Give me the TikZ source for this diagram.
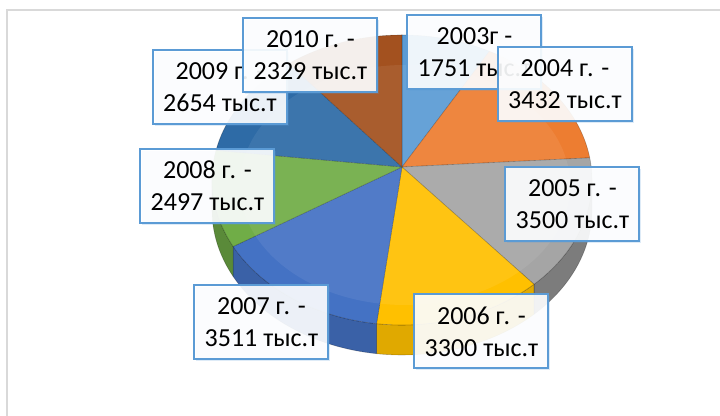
\documentclass[tikz,border=0pt]{standalone}
\usepackage{fontspec}
\setmainfont{Carlito}
\usetikzlibrary{shadows}
\definecolor{lblue}{HTML}{5B9BD5}
\definecolor{c03}{HTML}{5B9BD5}
\definecolor{c04}{HTML}{ED7D31}
\definecolor{c05}{HTML}{A5A5A5}
\definecolor{c06}{HTML}{FFC000}
\definecolor{c07}{HTML}{4472C4}
\definecolor{c08}{HTML}{70AD47}
\definecolor{c09}{HTML}{2E6BA6}
\definecolor{c10}{HTML}{A3511F}
\tikzset{
    x=0.5pt, y=-0.5pt, % one unit = one pixel, y going down
    lbl/.style={draw=lblue, line width=1pt, fill=white, fill opacity=0.9,
        text opacity=1, align=center, inner sep=0pt,
        minimum width=67pt, minimum height=37pt,
        font=\fontsize{13}{16}\selectfont,
        drop shadow={shadow xshift=0.8pt, shadow yshift=-0.8pt, opacity=0.2, fill=lblue}}, % data labels
    seam/.style={draw=black, draw opacity=0.25, line width=0.3pt}, % slice edges
}
% top face of a slice: start angle, end angle, colour
\newcommand{\topslice}[3]{%
  \path[fill=#3, seam] (402,167) -- ({402+190*cos(#1)},{180+145*sin(#1)})
    arc[start angle=#1, end angle=#2, x radius=190, y radius=145] -- cycle;}
% side of a slice
\newcommand{\sideslice}[3]{%
  \path[fill=#3, seam] ({402+190*cos(#1)},{180+145*sin(#1)})
    arc[start angle=#1, end angle=#2, x radius=190, y radius=145] -- ++(0,30)
    arc[start angle=#2, end angle=#1, x radius=190, y radius=145] -- cycle;}

\begin{document}
\begin{tikzpicture}
    \useasboundingbox (0,0) rectangle (720,416);
    \draw[black!15, line width=0.6pt] (720,10) -- (7,10) -- (7,416);

    % sides
    \sideslice{0}{46}{c05!75!black}
    \sideslice{46}{97.7}{c06!88!black}
    \sideslice{97.7}{152.7}{c07!85!black}
    \sideslice{152.7}{180}{c08!80!black}

    % top faces
    \topslice{-90}{-62.6}{c03}
    \topslice{-62.6}{-8.8}{c04}
    \topslice{-8.8}{46}{c05}
    \topslice{46}{97.7}{c06}
    \topslice{97.7}{152.7}{c07}
    \topslice{152.7}{191.8}{c08}
    \topslice{191.8}{233.4}{c09}
    \topslice{233.4}{270}{c10}
    \fill[white, opacity=0.07] (405,185) ellipse [x radius=165, y radius=120];

    % labels
    \node[lbl] (y2003) at (474.5,52.5) {2003г -\\1751 тыс.т};
    \node[lbl] (y2004) at (565,84) {2004 г. -\\3432 тыс.т};
    \node[lbl] (y2005) at (572.5,204.5) {2005 г. -\\3500 тыс.т};
    \node[lbl] (y2006) at (481.5,331.5) {2006 г. -\\3300 тыс.т};
    \node[lbl] (y2007) at (261.5,322) {2007 г. -\\3511 тыс.т};
    \node[lbl] (y2008) at (207.5,186) {2008 г. -\\2497 тыс.т};
    \node[lbl] (y2009) at (220,87) {2009 г. -\\2654 тыс.т};
    \node[lbl] (y2010) at (310.5,55.5) {2010 г. -\\2329 тыс.т};
\end{tikzpicture}
\end{document}
